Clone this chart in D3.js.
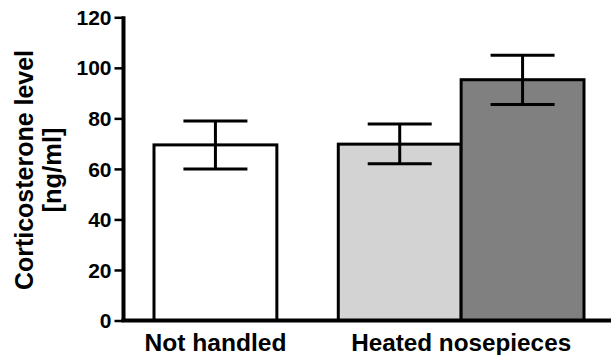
<!DOCTYPE html>
<html><head><meta charset="utf-8">
<script src="https://cdn.jsdelivr.net/npm/d3@7"></script>
<style>html,body{margin:0;padding:0;background:#fff;}svg{display:block;}</style>
</head><body>
<script>
const groups = ["Not handled", "Heated nosepieces"];
const barGroup = [0, 1, 1];
const barValues = [69.5, 69.8, 95.3];
const errLow = [60, 62, 85.5];
const errHigh = [79, 77.8, 105];
const barColors = ["#ffffff", "#d3d3d3", "#808080"];
const yTicks = [0, 20, 40, 60, 80, 100, 120];
const yTitle = ["Corticosterone level", "[ng/ml]"];

const W = 611, H = 355;
const svg = d3.select("body").append("svg").attr("width", W).attr("height", H);
const font = "'Liberation Sans', Arial, sans-serif";

const y = d3.scaleLinear().domain([0, 120]).range([320.5, 17.3]);
// slot positions: groups separated by half a bar width
const slots = barGroup.map((g, i) => i + g * 0.5);
const x = d3.scaleLinear().domain([0, 3.5]).range([154, 584]);
const bw = x(1) - x(0);

// bars
svg.selectAll("rect.bar").data(barValues).join("rect")
  .attr("x", (d, i) => x(slots[i])).attr("width", bw)
  .attr("y", d => y(d)).attr("height", d => y(0) - y(d))
  .attr("fill", (d, i) => barColors[i]).attr("stroke", "#000").attr("stroke-width", 3);

// error bars
const capW = 64;
barValues.forEach((v, i) => {
  const cx = x(slots[i]) + bw / 2;
  const g = svg.append("g").attr("stroke", "#000").attr("stroke-width", 3);
  g.append("line").attr("x1", cx).attr("x2", cx).attr("y1", y(errLow[i])).attr("y2", y(errHigh[i]));
  g.append("line").attr("x1", cx - capW / 2).attr("x2", cx + capW / 2).attr("y1", y(errLow[i])).attr("y2", y(errLow[i]));
  g.append("line").attr("x1", cx - capW / 2).attr("x2", cx + capW / 2).attr("y1", y(errHigh[i])).attr("y2", y(errHigh[i]));
});

// y axis
const yAxis = d3.axisLeft(y).tickValues(yTicks).tickSize(9).tickPadding(3).tickFormat(d3.format("d"));
const ya = svg.append("g").attr("transform", "translate(123.5,0)").call(yAxis);
ya.select(".domain").attr("stroke", "#000").attr("stroke-width", 4).attr("d", `M0,${y(120)-1}V${y(0)}`);
ya.selectAll(".tick line").attr("stroke", "#000").attr("stroke-width", 2.5);
ya.selectAll(".tick text").attr("font-family", font).attr("font-weight", "bold")
  .attr("font-size", 21).attr("fill", "#000").attr("dy", "0.34em");

// x axis
svg.append("line").attr("x1", 121.5).attr("x2", W).attr("y1", y(0)).attr("y2", y(0))
  .attr("stroke", "#000").attr("stroke-width", 4);

// group labels
const groupCenters = groups.map((g, gi) => {
  const idx = barGroup.map((b, i) => b === gi ? i : -1).filter(i => i >= 0);
  return (x(slots[idx[0]]) + x(slots[idx[idx.length - 1]]) + bw) / 2;
});
const labelLens = [142, 220];
svg.selectAll("text.glabel").data(groups).join("text")
  .attr("x", (d, i) => groupCenters[i]).attr("y", 351)
  .attr("text-anchor", "middle").attr("font-family", font).attr("font-weight", "bold")
  .attr("font-size", 23).attr("textLength", (d, i) => labelLens[i]).attr("lengthAdjust", "spacingAndGlyphs")
  .text(d => d);

// y title
const titleX = [33, 61];
const titleLens = [240, 85];
svg.selectAll("text.ytitle").data(yTitle).join("text")
  .attr("transform", (d, i) => `translate(${titleX[i]},170) rotate(-90)`)
  .attr("text-anchor", "middle").attr("font-family", font).attr("font-weight", "bold")
  .attr("font-size", 25).attr("textLength", (d, i) => titleLens[i]).attr("lengthAdjust", "spacingAndGlyphs")
  .text(d => d);
</script>
</body></html>
